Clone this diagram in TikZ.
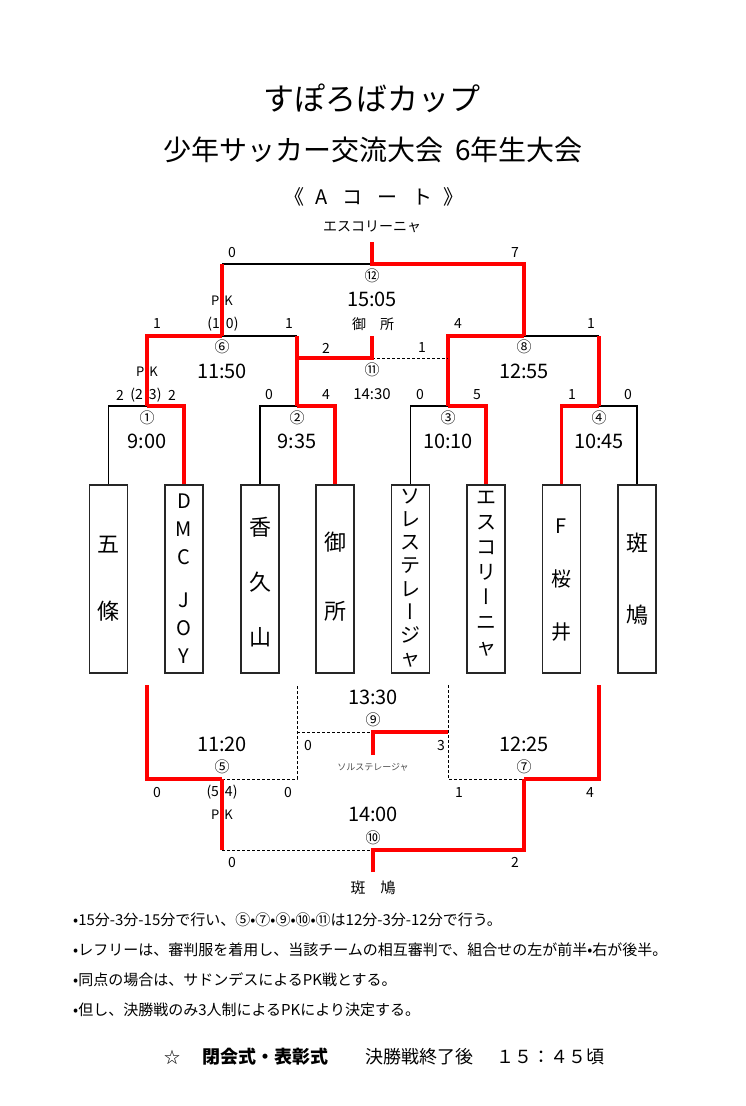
\documentclass[tikz,border=0pt]{standalone}
\usepackage{fontspec}
\setmainfont{Noto Sans CJK JP}
\newfontfamily\tatefont[RawFeature=+vert]{Noto Sans CJK JP}
\usetikzlibrary{calc}

\newcommand{\jfs}[1]{\fontsize{#1}{#1}\selectfont}
\newcommand{\tbar}{{\tatefont ー}}
\newcommand{\maru}[1]{\ifcase#1\or ①\or ②\or ③\or ④\or ⑤\or ⑥\or ⑦\or ⑧\or ⑨\or ⑩\or ⑪\or ⑫\fi}

\begin{document}
\begin{tikzpicture}[x=1pt,y=-1pt,
    win/.style={draw=red,line width=3.4pt},
    lose/.style={draw=black,line width=1.6pt},
    skip/.style={draw=black,line width=1pt,dash pattern=on 3pt off 2pt},
    teambox/.style={draw=black!85,line width=1.3pt,minimum width=38pt,minimum height=188pt,inner sep=0pt},
    score/.style={font=\jfs{14},inner sep=0pt},
    clock/.style={font=\jfs{20},inner sep=0pt},
    mno/.style={font=\jfs{15},inner sep=0pt},
    note/.style={font=\jfs{15},anchor=west,inner sep=0pt}]
  \useasboundingbox (0,0) rectangle (746,1106);

  % titles
  \node[font=\jfs{31}] (title) at (372,98) {すぽろばカップ};
  \node[font=\jfs{28}] (sub) at (373,150) {少年サッカー交流大会\hspace{12pt}6年生大会};
  \node[font=\jfs{20}] (court) at (374,197) {《\hspace{11pt}A\hspace{15pt}コ\hspace{15pt}ー\hspace{15pt}ト\hspace{11pt}》};
  \node[score] (champ) at (372,227) {エスコリーニャ};

  % teams
  \foreach \i/\x/\y/\f/\s/\name in {
      1/108.5/579/22/67/{五\\條},
      2/184/579/20/28/{D\\M\\C\\[15pt]J\\O\\Y},
      3/260/582/22/55/{香\\久\\山},
      4/335/577/22/69/{御\\所},
      5/410.5/578/20/23.2/{ソ\\レ\\ス\\テ\\レ\\\tbar\\ジ\\ャ},
      6/486/574/20/25/{エ\\ス\\コ\\リ\\\tbar\\ニ\\ャ},
      7/561.5/580/20/53/{F\\桜\\井},
      8/637/579/22/72/{斑\\鳩}} {
    \node[teambox] (t\i) at (\x,579) {};
    \node[font={\fontsize{\f}{\s}\selectfont},align=center,inner sep=0pt] (n\i) at (\x,\y) {\name};
  }

  % bracket points
  \coordinate (m1) at (147,406);
  \coordinate (m2) at (297,406);
  \coordinate (m3) at (448,406);
  \coordinate (m4) at (599,406);
  \coordinate (m6) at (222,336);
  \coordinate (m8) at (524,336);
  \coordinate (m11) at (372,358);
  \coordinate (w11) at (372,336);
  \coordinate (m12) at (372,264);
  \coordinate (w12) at (372,242);
  \coordinate (b1) at (147,685);
  \coordinate (b2) at (297,685);
  \coordinate (b3) at (448,685);
  \coordinate (b4) at (599,685);
  \coordinate (m5) at (222,779);
  \coordinate (m7) at (524,779);
  \coordinate (m9) at (373,732);
  \coordinate (w9) at (373,755);
  \coordinate (m10) at (373,850);
  \coordinate (w10) at (373,872);

  % first round
  \draw[lose] (t1.north) |- (m1);
  \draw[win] (m1) -| (t2.north);
  \draw[lose] (t3.north) |- (m2);
  \draw[win] (m2) -| (t4.north);
  \draw[lose] (t5.north) |- (m3);
  \draw[win] (m3) -| (t6.north);
  \draw[lose] (m4) -| (t8.north);
  \draw[win] (t7.north) |- (m4);

  % semi finals
  \draw[lose] (m6) -- (m2 |- m6);
  \draw[win] (m1) |- (m6);
  \draw[win] (m2) -- (m2 |- m6);
  \draw[lose] (m8) -- (m4 |- m8);
  \draw[win] (m3) |- (m8);
  \draw[win] (m4) -- (m4 |- m8);

  % third place and final
  \draw[skip] (m11) -- (m3 |- m11);
  \draw[win] (m2 |- m11) -- (m11) -- (w11);
  \draw[lose] (m6 |- m12) -- (m12);
  \draw[win] (m6) -- (m6 |- m12);
  \draw[win] (w12) -- (m12) -| (m8);

  % lower bracket
  \draw[skip] (m5) -| (b2);
  \draw[win] (b1) |- (m5);
  \draw[skip] (b3) |- (m7);
  \draw[win] (m7) -| (b4);
  \draw[skip] (b2 |- m9) -- (m9);
  \draw[win] (w9) -- (m9) -- (b3 |- m9);
  \draw[skip] (m5 |- m10) -- (m10);
  \draw[win] (m5) -- (m5 |- m10);
  \draw[win] (w10) -- (m10) -| (m7);

  % scores
  \foreach \n/\x/\y/\t in {a/232/253/0, b/515/253/7, c/157/324/1, d/289/324/1,
      e/458/324/4, f/591/324/1, g/326/348/2, h/422/348/1, i/120/395/2, j/172/395/2,
      k/269/395/0, l/326/395/4, m/420/395/0, n/477/395/5, o/572/395/1, p/628/395/0,
      q/308/745/0, r/441/745/3, s/157/792/0, u/288/792/0, v/459/792/1, w/590/792/4,
      x/232/862/0, y/515/862/2}
    \node[score] (s\n) at (\x,\y) {\t};

  % match numbers and kick-off times
  \foreach \i/\x/\y in {1/147/418, 2/297/418, 3/448/418, 4/599/418, 6/222/347,
      8/524/347, 12/372/276, 11/372/370, 9/373/720, 5/222/767, 7/524/767, 10/373/838}
    \node[mno] (c\i) at (\x,\y) {\maru{\i}};
  \foreach \i/\x/\y/\t in {1/147/441/9:00, 2/297/441/9:35, 3/448/441/10:10,
      4/599/441/10:45, 6/222/371/11:50, 8/524/371/12:55, 12/372/299/15:05,
      9/373/697/13:30, 5/222/744/11:20, 7/524/744/12:25, 10/373/814/14:00}
    \node[clock] (k\i) at (\x,\y) {\t};
  \node[score,font=\jfs{15}] (k11) at (372,394) {14:30};

  % penalty kicks and winners
  \node[score] (venue) at (373,324) {御　所};
  \node[score,font=\jfs{13}] (pk6) at (222,301) {P\hspace{5pt}K};
  \node[score,font=\jfs{13}] (pk1) at (147,372) {P\hspace{5pt}K};
  \node[score,font=\jfs{13}] (pk5) at (222,815) {P\hspace{5pt}K};
  \node[score] (pen6) at (223,324) {(1\hspace{6pt}0)};
  \node[score] (pen1) at (146,395) {(2\hspace{6pt}3)};
  \node[score] (pen5) at (222,792) {(5\hspace{6pt}4)};
  \node[score,font=\jfs{9},text=black!70] (third) at (373,767) {ソルステレージャ};
  \node[score,font=\jfs{15}] (fifth) at (373,888) {斑　鳩};

  % notes
  \node[note] (r1) at (73,920) {•15分-3分-15分で行い、⑤•⑦•⑨•⑩•⑪は12分-3分-12分で行う。};
  \node[note] (r2) at (73,950) {•レフリーは、審判服を着用し、当該チームの相互審判で、組合せの左が前半•右が後半。};
  \node[note] (r3) at (73,980) {•同点の場合は、サドンデスによるPK戦とする。};
  \node[note] (r4) at (73,1010) {•但し、決勝戦のみ3人制によるPKにより決定する。};

  \node[font=\jfs{16}] (star) at (172,1057) {☆};
  \node[font=\jfs{18}\bfseries] (close) at (265,1057) {閉会式・表彰式};
  \node[font=\jfs{18}] (after) at (419,1057) {決勝戦終了後};
  \node[font=\jfs{18}] (end) at (550,1057) {１５：４５頃};
\end{tikzpicture}
\end{document}
